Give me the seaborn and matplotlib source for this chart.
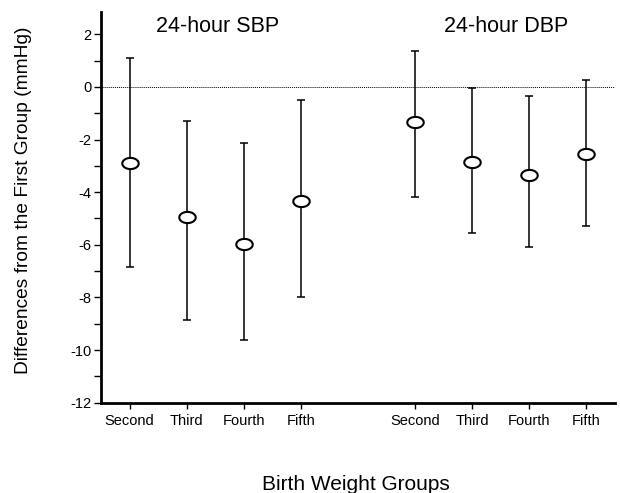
import matplotlib
matplotlib.use("Agg")
import matplotlib.pyplot as plt
import numpy as np
import pandas as pd
import seaborn as sns
from matplotlib.path import Path
from matplotlib.ticker import MultipleLocator

# values (mmHg, difference vs first birth-weight group)
groups = ["Second", "Third", "Fourth", "Fifth"]
panels = ["24-hour SBP", "24-hour DBP"]
sbp_mean = [-2.9, -4.95, -5.95, -4.35]
sbp_low = [-6.85, -8.85, -9.6, -8.0]
sbp_high = [1.1, -1.3, -2.15, -0.5]
dbp_mean = [-1.35, -2.85, -3.35, -2.55]
dbp_low = [-4.2, -5.55, -6.1, -5.3]
dbp_high = [1.35, -0.05, -0.35, 0.25]

df = pd.DataFrame({
    "panel": [panels[0]] * 4 + [panels[1]] * 4,
    "group": groups * 2,
    "mean": sbp_mean + dbp_mean,
    "low": sbp_low + dbp_low,
    "high": sbp_high + dbp_high,
})
# leave one empty slot between the two blocks
df["pos"] = [0, 1, 2, 3, 5, 6, 7, 8]

sns.set_style("ticks")
plt.rcParams["font.family"] = ["Liberation Sans", "DejaVu Sans"]
plt.rcParams.update({"text.color": "black", "axes.labelcolor": "black",
                     "xtick.color": "black", "ytick.color": "black",
                     "axes.edgecolor": "black"})

# slightly flattened circle, like the printed markers
t = np.linspace(0, 2 * np.pi, 60)
ellipse = Path(np.column_stack([np.cos(t), 0.68 * np.sin(t)]), closed=True)

fig = plt.figure(figsize=(6.2, 4.93), dpi=100)
ax = fig.add_axes([0.163, 0.183, 0.829, 0.793])

ax.axhline(0, color="black", linestyle=(0, (1, 1)), linewidth=0.7, zorder=1)
ax.errorbar(df["pos"], df["mean"],
            yerr=[df["mean"] - df["low"], df["high"] - df["mean"]],
            fmt="none", ecolor="black", elinewidth=1.1, capsize=3, capthick=1.1, zorder=2)
sns.scatterplot(data=df, x="pos", y="mean", marker=ellipse, s=140,
                color="white", edgecolor="black", linewidth=1.5, zorder=3, ax=ax)

ax.set_xlim(-0.5, 8.5)
ax.set_ylim(-12, 2.85)
ax.yaxis.set_minor_locator(MultipleLocator(1))
ax.set_yticks(np.arange(-12, 3, 2))
ax.set_yticklabels([f"{v:d}" for v in range(-12, 3, 2)], fontsize=10.5)
ax.set_xticks(df["pos"])
ax.set_xticklabels(df["group"], fontsize=10.5)
ax.tick_params(axis="both", which="both", direction="out", width=1, color="black")
ax.tick_params(axis="y", which="both", length=5, pad=2)
ax.tick_params(axis="x", length=4, pad=4)

for side in ["top", "right"]:
    ax.spines[side].set_visible(False)
for side in ["left", "bottom"]:
    ax.spines[side].set_linewidth(2)

ax.text(1.54, 2.3, panels[0], fontsize=15.5, ha="center", va="center")
ax.text(6.6, 2.3, panels[1], fontsize=15.5, ha="center", va="center")

ax.set_ylabel("Differences from the First Group (mmHg)", fontsize=13.8)
ax.yaxis.set_label_coords(-0.135, 0.518)
ax.set_xlabel("Birth Weight Groups", fontsize=15)
ax.xaxis.set_label_coords(0.495, -0.2225)
ax.xaxis.label.set_va("baseline")

fig.savefig("out.png", dpi=100, facecolor="white")
